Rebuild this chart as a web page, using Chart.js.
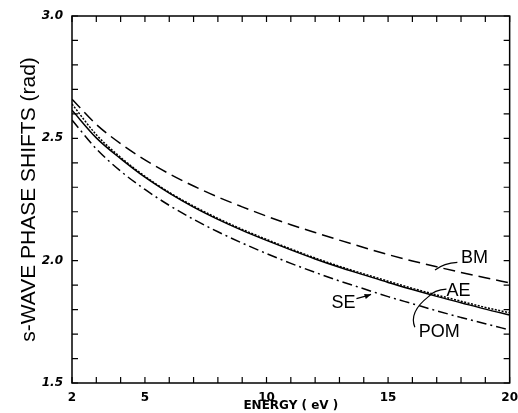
<!DOCTYPE html>
<html lang="en">
<head>
<meta charset="UTF-8">
<title>s-Wave Phase Shifts</title>
<script src="https://cdn.jsdelivr.net/npm/chart.js"></script>
<style>
    body { margin: 0; background: white; }
    canvas { display: block; }
</style>
</head>
<body>
<canvas id="phaseChart" width="518" height="413"></canvas>
<script>
// energies (eV)
var energies = [2, 3, 4, 5, 6, 7, 8, 9, 10, 11, 12, 13, 14, 15, 16, 17, 18, 19, 20];
// phase shifts (rad)
var bmValues  = [2.66, 2.557, 2.478, 2.412, 2.355, 2.305, 2.26, 2.22, 2.182, 2.147, 2.115, 2.084, 2.054, 2.025, 1.999, 1.975, 1.952, 1.93, 1.909];
var aeValues  = [2.64, 2.515, 2.422, 2.345, 2.279, 2.223, 2.173, 2.128, 2.087, 2.048, 2.011, 1.977, 1.946, 1.916, 1.887, 1.86, 1.834, 1.809, 1.787];
var pomValues = [2.615, 2.502, 2.417, 2.341, 2.276, 2.219, 2.169, 2.124, 2.083, 2.044, 2.007, 1.973, 1.942, 1.911, 1.882, 1.854, 1.828, 1.802, 1.778];
var seValues  = [2.575, 2.457, 2.366, 2.291, 2.226, 2.169, 2.118, 2.072, 2.029, 1.989, 1.952, 1.917, 1.885, 1.853, 1.824, 1.795, 1.768, 1.742, 1.717];
var xLabelTicks = [2, 5, 10, 15, 20];

// curve labels: text position and leader line, in data units
var curveLabels = [
    { text: 'BM',  x: 18.55, y: 2.011, lead: [[16.93, 1.962], [17.3, 1.99], [17.85, 1.993]] },
    { text: 'AE',  x: 17.9,  y: 1.876, lead: [[16.65, 1.852], [16.9, 1.882], [17.4, 1.884]] },
    { text: 'SE',  x: 13.17, y: 1.828, lead: [[13.7, 1.845], [14.0, 1.852], [14.3, 1.862]], arrow: true },
    { text: 'POM', x: 17.1,  y: 1.708, lead: [[16.1, 1.728], [15.85, 1.79], [16.65, 1.852]] }
];

function pts(values) {
    return energies.map(function(e, i) { return { x: e, y: values[i] }; });
}

// ticks pointing inward on all four sides + frame + curve labels
var framePlugin = {
    id: 'frame',
    afterDatasetsDraw: function(chart) {
        var ctx = chart.ctx, a = chart.chartArea;
        var xs = chart.scales.x, ys = chart.scales.y;
        ctx.save();
        ctx.strokeStyle = 'black';
        ctx.lineWidth = 1.5;
        ctx.strokeRect(a.left, a.top, a.right - a.left, a.bottom - a.top);
        ctx.lineWidth = 1.2;
        ctx.beginPath();
        xs.ticks.forEach(function(t) {
            var px = xs.getPixelForValue(t.value);
            ctx.moveTo(px, a.bottom); ctx.lineTo(px, a.bottom - 6);
            ctx.moveTo(px, a.top); ctx.lineTo(px, a.top + 6);
        });
        ys.ticks.forEach(function(t) {
            var py = ys.getPixelForValue(t.value);
            ctx.moveTo(a.left, py); ctx.lineTo(a.left + 6, py);
            ctx.moveTo(a.right, py); ctx.lineTo(a.right - 6, py);
        });
        ctx.stroke();

        ctx.font = '18px "Liberation Sans"';
        ctx.fillStyle = 'black';
        ctx.textAlign = 'center';
        ctx.textBaseline = 'middle';
        curveLabels.forEach(function(l) {
            ctx.fillText(l.text, xs.getPixelForValue(l.x), ys.getPixelForValue(l.y));
            var p = l.lead.map(function(q) { return [xs.getPixelForValue(q[0]), ys.getPixelForValue(q[1])]; });
            ctx.beginPath();
            ctx.lineWidth = 1.2;
            ctx.moveTo(p[0][0], p[0][1]);
            ctx.quadraticCurveTo(p[1][0], p[1][1], p[2][0], p[2][1]);
            ctx.stroke();
            if (l.arrow) {
                var dx = p[2][0] - p[1][0], dy = p[2][1] - p[1][1];
                var ang = Math.atan2(dy, dx);
                ctx.beginPath();
                ctx.moveTo(p[2][0], p[2][1]);
                ctx.lineTo(p[2][0] - 7 * Math.cos(ang - 0.4), p[2][1] - 7 * Math.sin(ang - 0.4));
                ctx.lineTo(p[2][0] - 7 * Math.cos(ang + 0.4), p[2][1] - 7 * Math.sin(ang + 0.4));
                ctx.closePath();
                ctx.fill();
            }
        });
        ctx.restore();
    }
};

var ctx = document.getElementById('phaseChart').getContext('2d');
var lineStyle = { borderColor: 'black', borderWidth: 1.5, pointRadius: 0, fill: false, cubicInterpolationMode: 'monotone' };

new Chart(ctx, {
    type: 'line',
    data: {
        datasets: [
            Object.assign({ label: 'BM',  data: pts(bmValues),  borderDash: [12, 6] }, lineStyle),
            Object.assign({ label: 'POM', data: pts(pomValues) }, lineStyle),
            Object.assign({ label: 'AE',  data: pts(aeValues),  borderDash: [2, 1.5] }, lineStyle),
            Object.assign({ label: 'SE',  data: pts(seValues),  borderDash: [10, 4, 2, 4] }, lineStyle)
        ]
    },
    options: {
        responsive: false,
        animation: false,
        layout: { padding: { top: 16, right: 6, left: 0, bottom: 0 } },
        plugins: { legend: { display: false }, tooltip: { enabled: false } },
        scales: {
            x: {
                type: 'linear',
                min: 2, max: 20,
                grid: { display: false },
                border: { display: false },
                ticks: {
                    stepSize: 1,
                    autoSkip: false,
                    maxRotation: 0,
                    padding: 0,
                    color: 'black',
                    font: { family: 'DejaVu Sans', size: 12, weight: 'bold' },
                    callback: function(v) { return xLabelTicks.indexOf(v) >= 0 ? String(v) : ''; }
                },
                title: {
                    display: true,
                    text: 'ENERGY ( eV )',
                    color: 'black',
                    padding: 0,
                    font: { family: 'DejaVu Sans', size: 12, weight: 'bold' }
                },
                afterFit: function(s) { s.height = 30; }
            },
            y: {
                min: 1.5, max: 3.0,
                grid: { display: false },
                border: { display: false },
                ticks: {
                    stepSize: 0.1,
                    autoSkip: false,
                    padding: 1,
                    color: 'black',
                    font: { family: 'DejaVu Sans', size: 12, weight: 'bold', style: 'italic' },
                    callback: function(v) {
                        var r = Math.round(v * 10);
                        return r % 5 === 0 ? (r / 10).toFixed(1) : '';
                    }
                },
                title: {
                    display: true,
                    text: 's-WAVE PHASE SHIFTS (rad)',
                    color: 'black',
                    padding: { top: 17, bottom: 0 },
                    font: { family: 'Liberation Sans', size: 21 }
                },
                afterFit: function(s) { s.width = 72; }
            }
        }
    },
    plugins: [framePlugin]
});
</script>
</body>
</html>
